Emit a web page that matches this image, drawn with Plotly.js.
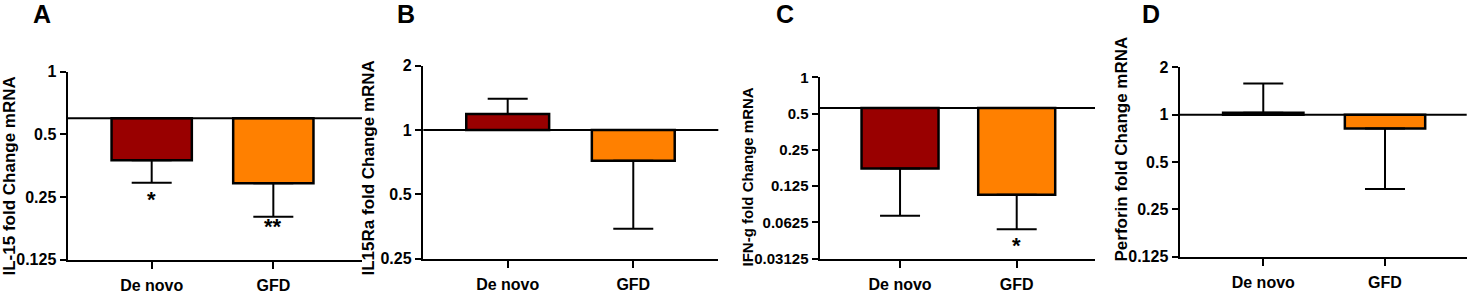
<!DOCTYPE html>
<html>
<head>
<meta charset="utf-8">
<script src="https://cdn.plot.ly/plotly-3.0.1.min.js"></script>
<style>html,body{margin:0;padding:0;background:#fff;}#chart{width:1469px;height:294px;}</style>
</head>
<body>
<div id="chart"></div>
<script>
// ---- data ----
const categories = ['De novo', 'GFD'];
const barColors = ['#990000', '#FF8000'];

const panelLetters = ['A', 'B', 'C', 'D'];
const yTitles = ['IL-15 fold Change mRNA', 'IL15Ra fold Change mRNA', 'IFN-g fold Change mRNA', 'Perforin fold Change mRNA'];

const baselineA = 0.597;
const meansA = [0.376, 0.291];
const errEndA = [0.293, 0.201];
const sigA = ['*', '**'];
const tickValsA = [1, 0.5, 0.25, 0.125];
const tickTextA = ['1', '0.5', '0.25', '0.125'];

const baselineB = 1;
const meansB = [1.188, 0.718];
const errEndB = [1.40, 0.345];
const sigB = ['', ''];
const tickValsB = [2, 1, 0.5, 0.25];
const tickTextB = ['2', '1', '0.5', '0.25'];

const baselineC = 0.557;
const meansC = [0.175, 0.106];
const errEndC = [0.071, 0.0548];
const sigC = ['', '*'];
const tickValsC = [1, 0.5, 0.25, 0.125, 0.0625, 0.03125];
const tickTextC = ['1', '0.5', '0.25', '0.125', '0.0625', '0.03125'];

const baselineD = 1;
const meansD = [1.03, 0.815];
const errEndD = [1.58, 0.337];
const sigD = ['', ''];
const tickValsD = [2, 1, 0.5, 0.25, 0.125];
const tickTextD = ['2', '1', '0.5', '0.25', '0.125'];

// ---- layout settings ----
const W = 1469, H = 294;
const panels = [
  {base: baselineA, means: meansA, errEnd: errEndA, sig: sigA, tv: tickValsA, tt: tickTextA,
   px: [68, 362], py: [71.7, 259.7], xr: [-0.688, 1.729], yr: [0.125, 1], sigShift: [-2, 5],
   title: {x: 9, y: 176.5, size: 17}, letter: {x: 41.7, y: 14}, tick: 16},
  {base: baselineB, means: meansB, errEnd: errEndB, sig: sigB, tv: tickValsB, tt: tickTextB,
   px: [423.3, 718.3], py: [65.7, 258.7], xr: [-0.672, 1.677], yr: [0.25, 2], sigShift: [-2, -2],
   title: {x: 368, y: 168.5, size: 17}, letter: {x: 406, y: 14}, tick: 16},
  {base: baselineC, means: meansC, errEnd: errEndC, sig: sigC, tv: tickValsC, tt: tickTextC,
   px: [820, 1095], py: [77.3, 258.7], xr: [-0.686, 1.671], yr: [0.03125, 1], sigShift: [-2, -2],
   title: {x: 746.5, y: 177, size: 15}, letter: {x: 785, y: 14}, tick: 15},
  {base: baselineD, means: meansD, errEnd: errEndD, sig: sigD, tv: tickValsD, tt: tickTextD,
   px: [1180, 1466.7], py: [67.3, 256.7], xr: [-0.684, 1.671], yr: [0.125, 2], sigShift: [-2, -2],
   title: {x: 1120.5, y: 149, size: 17}, letter: {x: 1151, y: 14}, tick: 16}
];

const FONT = 'Liberation Sans, Arial, Helvetica, sans-serif';
const traces = [];
const layout = {
  width: W, height: H,
  margin: {l: 0, r: 0, t: 0, b: 0},
  paper_bgcolor: '#fff', plot_bgcolor: '#fff',
  showlegend: false,
  font: {family: FONT, color: '#000'},
  shapes: [], annotations: []
};

panels.forEach((p, i) => {
  const n = i === 0 ? '' : String(i + 1);
  const xa = 'x' + n, ya = 'y' + n;
  // bars hanging from the baseline
  traces.push({
    type: 'bar', x: categories, y: p.means.map(m => m - p.base), base: p.base,
    width: 0.66, xaxis: xa, yaxis: ya,
    marker: {color: barColors, line: {color: '#000', width: 2.5}},
    hoverinfo: 'skip'
  });
  // error bars (one-sided, away from baseline)
  traces.push({
    type: 'scatter', mode: 'markers', x: categories, y: p.means,
    xaxis: xa, yaxis: ya, marker: {size: 1, opacity: 0}, hoverinfo: 'skip',
    error_y: {
      type: 'data', symmetric: false,
      array: p.means.map((m, k) => p.errEnd[k] > m ? p.errEnd[k] - m : 0),
      arrayminus: p.means.map((m, k) => p.errEnd[k] < m ? m - p.errEnd[k] : 0),
      color: '#000', thickness: 2, width: 20
    }
  });
  layout['xaxis' + n] = {
    domain: [p.px[0] / W, p.px[1] / W], anchor: ya, type: 'category',
    range: p.xr, showline: true, linewidth: 2.5, linecolor: '#000',
    ticks: 'outside', ticklen: 7, tickwidth: 2, tickcolor: '#000',
    tickfont: {size: 16, weight: 'bold', family: FONT}, ticklabelstandoff: 3,
    showgrid: false, zeroline: false, fixedrange: true
  };
  layout['yaxis' + n] = {
    domain: [1 - p.py[1] / H, 1 - p.py[0] / H], anchor: xa, type: 'log',
    range: [Math.log10(p.yr[0]), Math.log10(p.yr[1])],
    tickvals: p.tv, ticktext: p.tt,
    showline: true, linewidth: 2.5, linecolor: '#000',
    ticks: 'outside', ticklen: 6, tickwidth: 2, tickcolor: '#000',
    tickfont: {size: p.tick, weight: 'bold', family: FONT}, ticklabelstandoff: 0,
    showgrid: false, zeroline: false, fixedrange: true
  };
  // baseline reference line
  layout.shapes.push({
    type: 'line', xref: xa + ' domain', yref: ya, x0: 0, x1: 1, y0: p.base, y1: p.base,
    line: {color: '#000', width: 2}, layer: 'above'
  });
  // significance marks under error bars
  p.sig.forEach((s, k) => {
    if (!s) return;
    layout.annotations.push({
      xref: xa, yref: ya, x: categories[k], y: Math.log10(p.errEnd[k]),
      text: s, showarrow: false, yanchor: 'top', yshift: p.sigShift[k],
      font: {size: 22, weight: 'bold', family: FONT}
    });
  });
  // y-axis title
  layout.annotations.push({
    xref: 'paper', yref: 'paper', x: p.title.x / W, y: 1 - p.title.y / H,
    xanchor: 'center', yanchor: 'middle', textangle: -90, showarrow: false,
    text: yTitles[i], font: {size: p.title.size, weight: 'bold', family: FONT}
  });
  // panel letter
  layout.annotations.push({
    xref: 'paper', yref: 'paper', x: p.letter.x / W, y: 1 - p.letter.y / H,
    xanchor: 'center', yanchor: 'middle', showarrow: false,
    text: panelLetters[i], font: {size: 25, weight: 'bold', family: FONT}
  });
});

Plotly.newPlot('chart', traces, layout, {staticPlot: true, displayModeBar: false});
</script>
</body>
</html>
